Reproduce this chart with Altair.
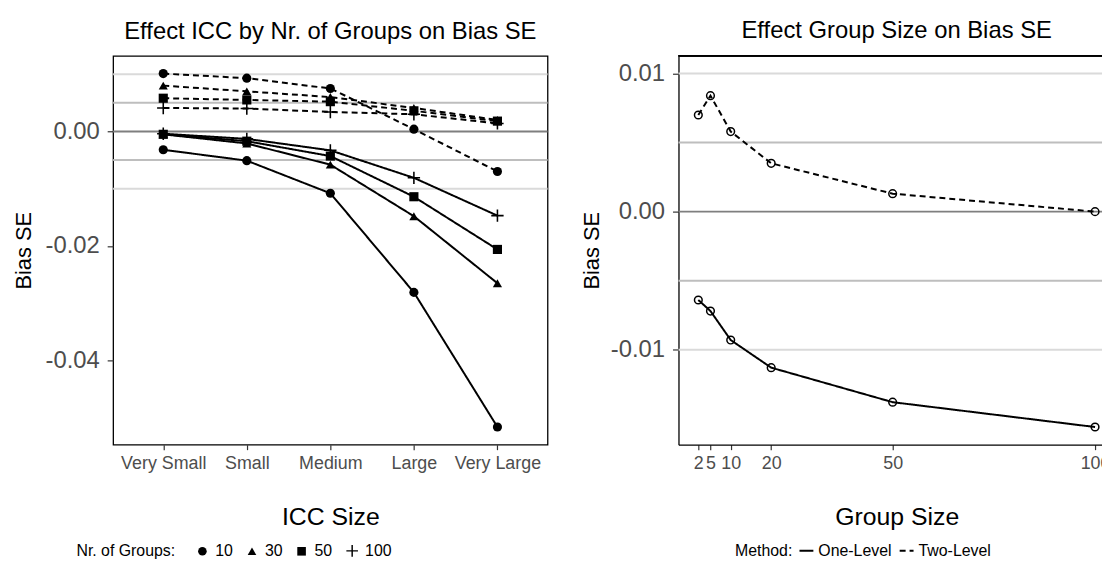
import altair as alt
import pandas as pd

# ---------------- data ----------------
icc_sizes = ["Very Small", "Small", "Medium", "Large", "Very Large"]
n_groups = ["10", "30", "50", "100"]
methods = ["One-Level", "Two-Level"]

# One-Level (solid lines)
one_level_10 = [-0.0032, -0.0051, -0.0108, -0.0281, -0.0516]
one_level_30 = [-0.0005, -0.0021, -0.0058, -0.0148, -0.0265]
one_level_50 = [-0.0005, -0.0017, -0.0043, -0.0114, -0.0206]
one_level_100 = [-0.0004, -0.0013, -0.0033, -0.0081, -0.0147]
# Two-Level (dashed lines)
two_level_10 = [0.0101, 0.0093, 0.0075, 0.0004, -0.0070]
two_level_30 = [0.0080, 0.0070, 0.0060, 0.0041, 0.0020]
two_level_50 = [0.0058, 0.0055, 0.0052, 0.0036, 0.0018]
two_level_100 = [0.0041, 0.0040, 0.0034, 0.0030, 0.0014]

group_sizes = [2, 5, 10, 20, 50, 100]
one_level_gs = [-0.0064, -0.0072, -0.0093, -0.0113, -0.0138, -0.0156]
two_level_gs = [0.0070, 0.0084, 0.0058, 0.0035, 0.0013, 0.0000]

ref_values = [0.01, 0.005, 0.0, -0.005, -0.01]
ref_colors = ["#dadada", "#bebebe", "#7f7f7f", "#bebebe", "#dadada"]

# ---------------- tables ----------------
left_series = {
    ("One-Level", "10"): one_level_10,
    ("One-Level", "30"): one_level_30,
    ("One-Level", "50"): one_level_50,
    ("One-Level", "100"): one_level_100,
    ("Two-Level", "10"): two_level_10,
    ("Two-Level", "30"): two_level_30,
    ("Two-Level", "50"): two_level_50,
    ("Two-Level", "100"): two_level_100,
}
rows = []
for (m, g), vals in left_series.items():
    for icc, v in zip(icc_sizes, vals):
        rows.append({"icc": icc, "groups": g, "method": m, "bias": v})
left_df = pd.DataFrame(rows)

rows = []
for m, vals in zip(methods, [one_level_gs, two_level_gs]):
    for s, v in zip(group_sizes, vals):
        rows.append({"size": s, "method": m, "bias": v})
right_df = pd.DataFrame(rows)

ref_df = pd.DataFrame({"bias": ref_values, "col": ref_colors})

FONT = "Liberation Sans"
LBL = "datum.value < 0 ? '-' + format(-datum.value, '.2f') : format(datum.value, '.2f')"
t, a = 0.17, 1.35
plus_path = (
    f"M{-a},{-t}L{-t},{-t}L{-t},{-a}L{t},{-a}L{t},{-t}L{a},{-t}L{a},{t}"
    f"L{t},{t}L{t},{a}L{-t},{a}L{-t},{t}L{-a},{t}Z"
)

dash_scale = alt.Scale(domain=methods, range=[[1, 0], [6, 4]])


def y_enc(domain, values, domain_line, title_pad):
    return alt.Y(
        "bias:Q",
        scale=alt.Scale(domain=domain, nice=False, zero=False),
        axis=alt.Axis(
            values=values, labelExpr=LBL, title="Bias SE", grid=False,
            labelFontSize=24, titleFontSize=22, titlePadding=title_pad,
            tickSize=6, labelPadding=8, domain=domain_line,
            domainColor="black", domainWidth=1.3,
        ),
    )


# ---------------- left panel ----------------
yl = y_enc([-0.05469, 0.01319], [0, -0.02, -0.04], False, 9.5)
xl = alt.X(
    "icc:N", sort=icc_sizes,
    scale=alt.Scale(type="point", padding=0.6),
    axis=alt.Axis(title="ICC Size", labelAngle=0, grid=False, labelFontSize=18,
                  titleFontSize=25, titlePadding=32, tickSize=5, labelPadding=5,
                  labelOverlap=False, domain=False),
)

ref_left = alt.Chart(ref_df).mark_rule(strokeWidth=2).encode(
    y=yl, color=alt.Color("col:N", scale=None)
)
lines_left = alt.Chart(left_df).mark_line(color="black", strokeWidth=2).encode(
    x=xl, y=yl,
    strokeDash=alt.StrokeDash("method:N", scale=dash_scale, legend=None),
    detail="groups:N",
)
points_left = alt.Chart(left_df).mark_point(
    filled=True, color="black", size=85, opacity=1
).encode(
    x=xl, y=yl,
    shape=alt.Shape(
        "groups:N", sort=n_groups,
        scale=alt.Scale(domain=n_groups,
                        range=["circle", "triangle-up", "square", plus_path]),
        legend=alt.Legend(
            title="Nr. of Groups:", orient="none", legendX=-37, legendY=491,
            direction="horizontal", titleOrient="left", titleFontWeight="normal",
            titleFontSize=16, labelFontSize=16, titleColor="black",
            labelColor="black", symbolFillColor="black",
            symbolSize=75, labelOffset=5, columnPadding=11, titlePadding=19,
        ),
    ),
)

left = alt.layer(ref_left, lines_left, points_left).properties(
    width=438, height=392,
    title=alt.TitleParams("Effect ICC by Nr. of Groups on Bias SE"),
    view=alt.ViewBackground(stroke="black", strokeWidth=1.3),
)

# ---------------- right panel ----------------
yr = y_enc([-0.01688, 0.01128], [0.01, 0, -0.01], True, 6.5)
xr = alt.X(
    "size:Q",
    scale=alt.Scale(domain=[-2.9, 104.9], nice=False, zero=False),
    axis=alt.Axis(values=group_sizes, format="d", title="Group Size", grid=False,
                  labelFontSize=18, titleFontSize=25, titlePadding=32,
                  tickSize=5, labelPadding=5, labelOverlap=False,
                  labelFlush=False, labelBound=False, domain=True,
                  domainColor="black", domainWidth=1.3),
)

ref_right = alt.Chart(ref_df).mark_rule(strokeWidth=2).encode(
    y=yr, color=alt.Color("col:N", scale=None)
)
top_border = alt.Chart(ref_df).mark_rule(color="black", strokeWidth=1.3).encode(
    y=alt.value(0)
)
lines_right = alt.Chart(right_df).mark_line(color="black", strokeWidth=2).encode(
    x=xr, y=yr,
    strokeDash=alt.StrokeDash(
        "method:N", scale=dash_scale,
        legend=alt.Legend(
            title="Method:", orient="none", legendX=57, legendY=491,
            direction="horizontal", titleOrient="left", titleFontWeight="normal",
            titleFontSize=16, labelFontSize=16, titleColor="black",
            labelColor="black", symbolStrokeColor="black", symbolStrokeWidth=2,
            symbolSize=196, labelOffset=4, columnPadding=4, titlePadding=6,
        ),
    ),
)
points_right = alt.Chart(right_df).mark_point(
    filled=False, color="black", strokeWidth=1.5, size=60, opacity=1
).encode(x=xr, y=yr)

right = alt.layer(ref_right, top_border, lines_right, points_right).properties(
    width=440, height=392,
    title=alt.TitleParams("Effect Group Size on Bias SE"),
    view=alt.ViewBackground(stroke=None),
)

chart = (
    alt.hconcat(left, right, spacing=31)
    .resolve_scale(x="independent", y="independent", shape="independent",
                   strokeDash="independent")
    .resolve_legend(shape="independent", strokeDash="independent")
    .properties(padding={"left": 4, "top": 9, "right": -14, "bottom": 0})
    .configure(font=FONT)
    .configure_axis(labelColor="#4d4d4d", titleColor="black", tickColor="#333333",
                    tickWidth=1.2, titleFontWeight="normal",
                    labelFont=FONT, titleFont=FONT)
    .configure_title(fontSize=24, fontWeight="normal", anchor="middle",
                     color="black", offset=12, font=FONT)
    .configure_legend(labelFont=FONT, titleFont=FONT)
)

chart.save("out.html", embed_options={"renderer": "svg", "actions": False})
